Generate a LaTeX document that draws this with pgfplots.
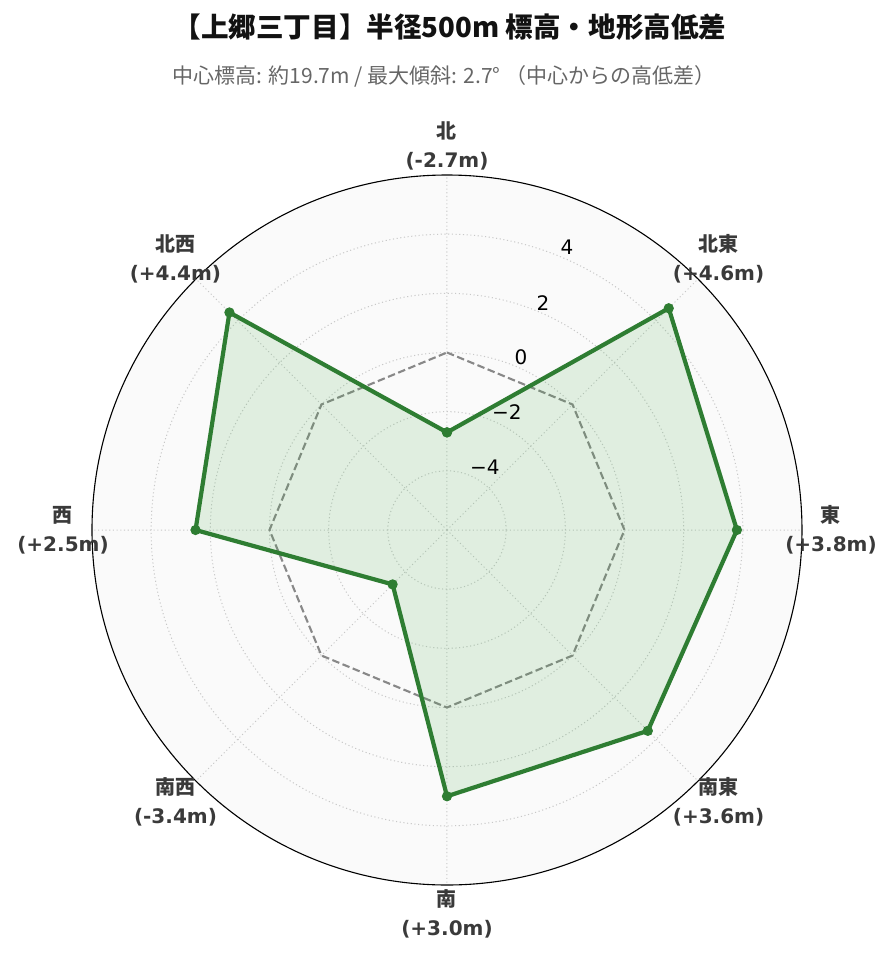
\documentclass[border=0pt]{standalone}
\usepackage{fontspec}
\setmainfont{DejaVu Sans}
\newfontfamily\cjk{Noto Sans CJK JP}
\usepackage{pgfplots}
\pgfplotsset{compat=1.18}
\usepgfplotslibrary{polar}

\definecolor{linegreen}{HTML}{2E7D32}
\definecolor{fillgreen}{HTML}{4CAF50}
\definecolor{bgcol}{HTML}{FAFAFA}
\definecolor{gridcol}{HTML}{C8C8C8}
\definecolor{zerocol}{HTML}{888888}
\definecolor{labcol}{HTML}{3A3A3A}
\definecolor{subcol}{HTML}{666666}

\begin{document}
\begin{tikzpicture}
\path[use as bounding box] (-447pt,-432pt) rectangle (446pt,530pt);

\node[font=\cjk\bfseries\fontsize{27.6}{32}\selectfont, text=black!93] at (3pt,503pt) {【上郷三丁目】半径500m 標高・地形高低差};
\node[font=\cjk\fontsize{21}{25}\selectfont, text=subcol] at (-3pt,454pt) {中心標高: 約19.7m / 最大傾斜: 2.7° （中心からの高低差）};

% radius = value + 6 (axis runs from -6 at the centre to 6 at the rim)
\begin{polaraxis}[
    at={(0,0)}, anchor=center,
    scale only axis, width=710pt, height=710pt,
    xmin=0, xmax=360,
    ymin=0, ymax=12,
    xtick={0,45,...,315},
    xticklabels={},
    ytick={2,4,6,8,10},
    yticklabels={},
    major tick length=0pt,
    grid=major,
    major grid style={color=gridcol, line width=1pt, dash pattern=on 1.1pt off 2.6pt},
    axis line style={black, line width=1.1pt},
    y axis line style={draw=none},
    axis background/.style={fill=bgcol},
    clip=false,
]

% zero reference polygon
\addplot[zerocol, line width=2.1pt, dash pattern=on 7.5pt off 3.5pt, no markers]
    coordinates {
    (90,6) (45,6) (0,6) (-45,6) (-90,6) (-135,6) (-180,6) (-225,6) (90,6)
    };

% elevation difference per direction
\addplot[linegreen, line width=4.2pt, line join=round,
    fill=fillgreen, fill opacity=0.15, draw opacity=1,
    mark=*, mark size=4.6pt, mark options={fill=linegreen, fill opacity=1, line width=1pt}]
    coordinates {
    (90,3.3) (45,10.6) (0,9.8) (-45,9.6) (-90,9.0) (-135,2.6) (-180,8.5) (-225,10.4) (90,3.3)
    };

% radial tick labels
\node[font=\fontsize{20}{24}\selectfont] at (axis cs:67,10.38) {4};
\node[font=\fontsize{20}{24}\selectfont] at (axis cs:67.1,8.33) {2};
\node[font=\fontsize{20}{24}\selectfont] at (axis cs:66.8,6.36) {0};
\node[font=\fontsize{20}{24}\selectfont] at (axis cs:63,4.46) {−2};
\node[font=\fontsize{20}{24}\selectfont] at (axis cs:59,2.49) {−4};

% direction labels
\tikzset{dirlab/.style={align=center, text=labcol, font=\bfseries\fontsize{20}{29}\selectfont}}
\node[dirlab] at (axis cs:90,12.98)  {{\cjk 北}\\(-2.7m)};
\node[dirlab] at (axis cs:45,12.98)  {{\cjk 北東}\\(+4.6m)};
\node[dirlab] at (axis cs:0,12.98)   {{\cjk 東}\\(+3.8m)};
\node[dirlab] at (axis cs:-45,12.98) {{\cjk 南東}\\(+3.6m)};
\node[dirlab] at (axis cs:-90,12.98) {{\cjk 南}\\(+3.0m)};
\node[dirlab] at (axis cs:-135,12.98){{\cjk 南西}\\(-3.4m)};
\node[dirlab] at (axis cs:180,12.98) {{\cjk 西}\\(+2.5m)};
\node[dirlab] at (axis cs:135,12.98) {{\cjk 北西}\\(+4.4m)};
\end{polaraxis}
\end{tikzpicture}
\end{document}
